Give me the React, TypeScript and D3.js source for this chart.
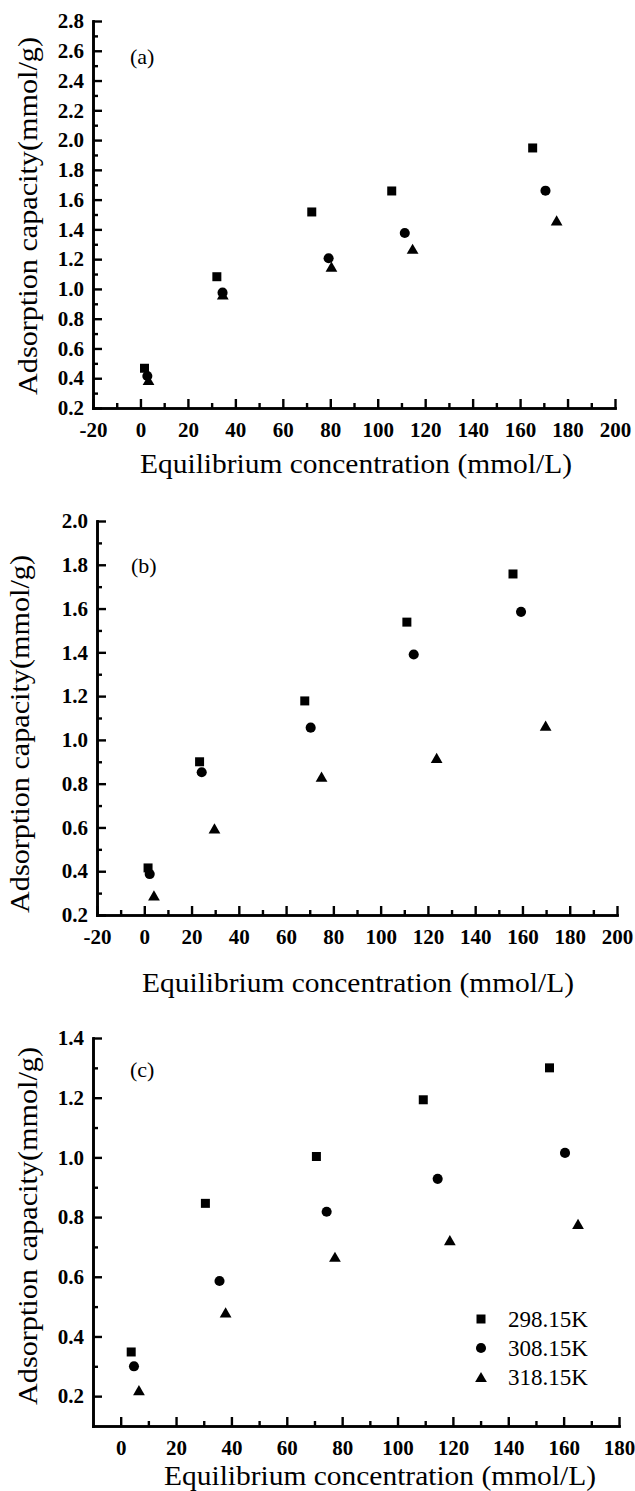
import React, { useEffect, useRef } from "react";
import * as d3 from "d3";

const W = 635, H = 1491;
const FONT = "'Liberation Serif', 'Times New Roman', Times, serif";

const seriesNames = ["298.15K", "308.15K", "318.15K"];
const xTitle = "Equilibrium concentration (mmol/L)";
const yTitle = "Adsorption capacity(mmol/g)";

// panel (a)
const aX298 = [1.7, 32.2, 72.2, 105.9, 165.3];
const aY298 = [0.467, 1.082, 1.517, 1.658, 1.947];
const aX308 = [2.9, 34.6, 79.3, 111.4, 170.7];
const aY308 = [0.415, 0.975, 1.206, 1.376, 1.66];
const aX318 = [3.4, 34.7, 80.5, 114.7, 175.4];
const aY318 = [0.388, 0.964, 1.15, 1.27, 1.46];

// panel (b)
const bX298 = [1.6, 23.4, 67.9, 111.1, 156];
const bY298 = [0.415, 0.9, 1.178, 1.538, 1.758];
const bX308 = [2.3, 24.3, 70.4, 114, 159.4];
const bY308 = [0.387, 0.852, 1.056, 1.39, 1.585];
const bX318 = [4.1, 29.7, 75, 123.7, 169.8];
const bY318 = [0.29, 0.596, 0.832, 0.918, 1.065];

// panel (c)
const cX298 = [3.8, 30.6, 70.7, 109.3, 154.9];
const cY298 = [0.348, 0.846, 1.003, 1.193, 1.3];
const cX308 = [4.8, 35.7, 74.4, 114.5, 160.5];
const cY308 = [0.3, 0.586, 0.818, 0.928, 1.015];
const cX318 = [6.6, 37.9, 77.4, 118.9, 165.2];
const cY318 = [0.22, 0.481, 0.667, 0.723, 0.777];

const xTicksAB = [-20, 0, 20, 40, 60, 80, 100, 120, 140, 160, 180, 200];
const xTicksC = [0, 20, 40, 60, 80, 100, 120, 140, 160, 180];
const yTicksA = [0.2, 0.4, 0.6, 0.8, 1.0, 1.2, 1.4, 1.6, 1.8, 2.0, 2.2, 2.4, 2.6, 2.8];
const yTicksB = [0.2, 0.4, 0.6, 0.8, 1.0, 1.2, 1.4, 1.6, 1.8, 2.0];
const yTicksC = [0.2, 0.4, 0.6, 0.8, 1.0, 1.2, 1.4];

const zip = (xs: number[], ys: number[]) => xs.map((v, i) => [v, ys[i]]);
const minors = (ticks: number[]) => ticks.slice(0, -1).map((t, i) => +((t + ticks[i + 1]) / 2).toFixed(3));

const panels = [
  {
    tag: "(a)", xDomain: [-20, 200], yDomain: [0.2, 2.8],
    left: 93, right: 615, top: 21, bottom: 408,
    xTicks: xTicksAB, yTicks: yTicksA,
    xTitleY: 473, xTitleX: 356, yTitleX: 37, yTitleY: 216, tagX: 130, tagY: 64,
    series: [zip(aX298, aY298), zip(aX308, aY308), zip(aX318, aY318)],
  },
  {
    tag: "(b)", xDomain: [-20, 200], yDomain: [0.2, 2.0],
    left: 97, right: 617, top: 521, bottom: 915,
    xTicks: xTicksAB, yTicks: yTicksB,
    xTitleY: 992, xTitleX: 358, yTitleX: 29, yTitleY: 734, tagX: 131, tagY: 573,
    series: [zip(bX298, bY298), zip(bX308, bY308), zip(bX318, bY318)],
  },
  {
    tag: "(c)", xDomain: [-10, 180], yDomain: [0.1, 1.4],
    left: 93, right: 619, top: 1038, bottom: 1426,
    xTicks: xTicksC, yTicks: yTicksC,
    xTitleY: 1485, xTitleX: 380, yTitleX: 37, yTitleY: 1226, tagX: 130, tagY: 1077,
    series: [zip(cX298, cY298), zip(cX308, cY308), zip(cX318, cY318)],
    legend: true,
  },
];

const symbols = [
  d3.symbol().type(d3.symbolSquare).size(81)(),
  d3.symbol().type(d3.symbolCircle).size(80)(),
  d3.symbol().type(d3.symbolTriangle).size(60)(),
];
// shift triangle so its box centre sits on the point
const symShift = [0, 0, 1.7];

export default function App() {
  const ref = useRef<SVGSVGElement>(null);

  useEffect(() => {
    const svg = d3.select(ref.current);
    svg.selectAll("*").remove();

    panels.forEach((p) => {
      const x = d3.scaleLinear().domain(p.xDomain).range([p.left, p.right]);
      const y = d3.scaleLinear().domain(p.yDomain).range([p.bottom, p.top]);
      const g = svg.append("g");

      // minor ticks first
      g.append("g")
        .attr("transform", `translate(0,${p.bottom})`)
        .call(d3.axisBottom(x).tickValues(minors(p.xTicks)).tickSizeInner(-5).tickSizeOuter(0).tickFormat(() => ""));
      g.append("g")
        .attr("transform", `translate(${p.left},0)`)
        .call(d3.axisLeft(y).tickValues(minors(p.yTicks)).tickSizeInner(-5).tickSizeOuter(0).tickFormat(() => ""));

      g.append("g")
        .attr("transform", `translate(0,${p.bottom})`)
        .call(d3.axisBottom(x).tickValues(p.xTicks).tickSizeInner(-9).tickSizeOuter(0).tickPadding(14)
          .tickFormat((d) => String(d)));
      g.append("g")
        .attr("transform", `translate(${p.left},0)`)
        .call(d3.axisLeft(y).tickValues(p.yTicks).tickSizeInner(-9).tickSizeOuter(0).tickPadding(9)
          .tickFormat(d3.format(".1f")));

      g.selectAll(".domain").attr("stroke", "#000").attr("stroke-width", 2.6).attr("stroke-linecap", "square");
      g.selectAll(".tick line").attr("stroke", "#000").attr("stroke-width", 2.4);
      g.selectAll(".tick text")
        .attr("fill", "#000")
        .attr("style", `font-family:${FONT};font-size:21px;font-weight:bold`);

      // axis titles
      g.append("text")
        .attr("x", p.xTitleX).attr("y", p.xTitleY)
        .attr("text-anchor", "middle")
        .attr("style", `font-family:${FONT};font-size:28px`)
        .attr("textLength", 432).attr("lengthAdjust", "spacingAndGlyphs")
        .text(xTitle);
      g.append("text")
        .attr("transform", `translate(${p.yTitleX},${p.yTitleY}) rotate(-90)`)
        .attr("text-anchor", "middle")
        .attr("style", `font-family:${FONT};font-size:28px`)
        .attr("textLength", 358).attr("lengthAdjust", "spacingAndGlyphs")
        .text(yTitle);

      g.append("text")
        .attr("x", p.tagX).attr("y", p.tagY)
        .attr("style", `font-family:${FONT};font-size:22px`)
        .text(p.tag);

      // points
      p.series.forEach((pts, si) => {
        g.selectAll(`.pt${si}`)
          .data(pts)
          .join("path")
          .attr("class", `pt${si}`)
          .attr("d", symbols[si])
          .attr("transform", (d) => `translate(${x(d[0])},${y(d[1]) + symShift[si]})`)
          .attr("fill", "#000");
      });

      if (p.legend) {
        const lg = g.append("g").attr("transform", "translate(481,1319)");
        seriesNames.forEach((name, i) => {
          lg.append("path")
            .attr("d", symbols[i])
            .attr("transform", `translate(0,${i * 29 + symShift[i]})`)
            .attr("fill", "#000");
          lg.append("text")
            .attr("x", 27).attr("y", i * 29 + 7.5)
            .attr("style", `font-family:${FONT};font-size:23px`)
            .text(name);
        });
      }
    });
  }, []);

  return (
    <svg ref={ref} width={W} height={H}
      style={{ position: "absolute", left: 0, top: 0, background: "#fff" }} />
  );
}
